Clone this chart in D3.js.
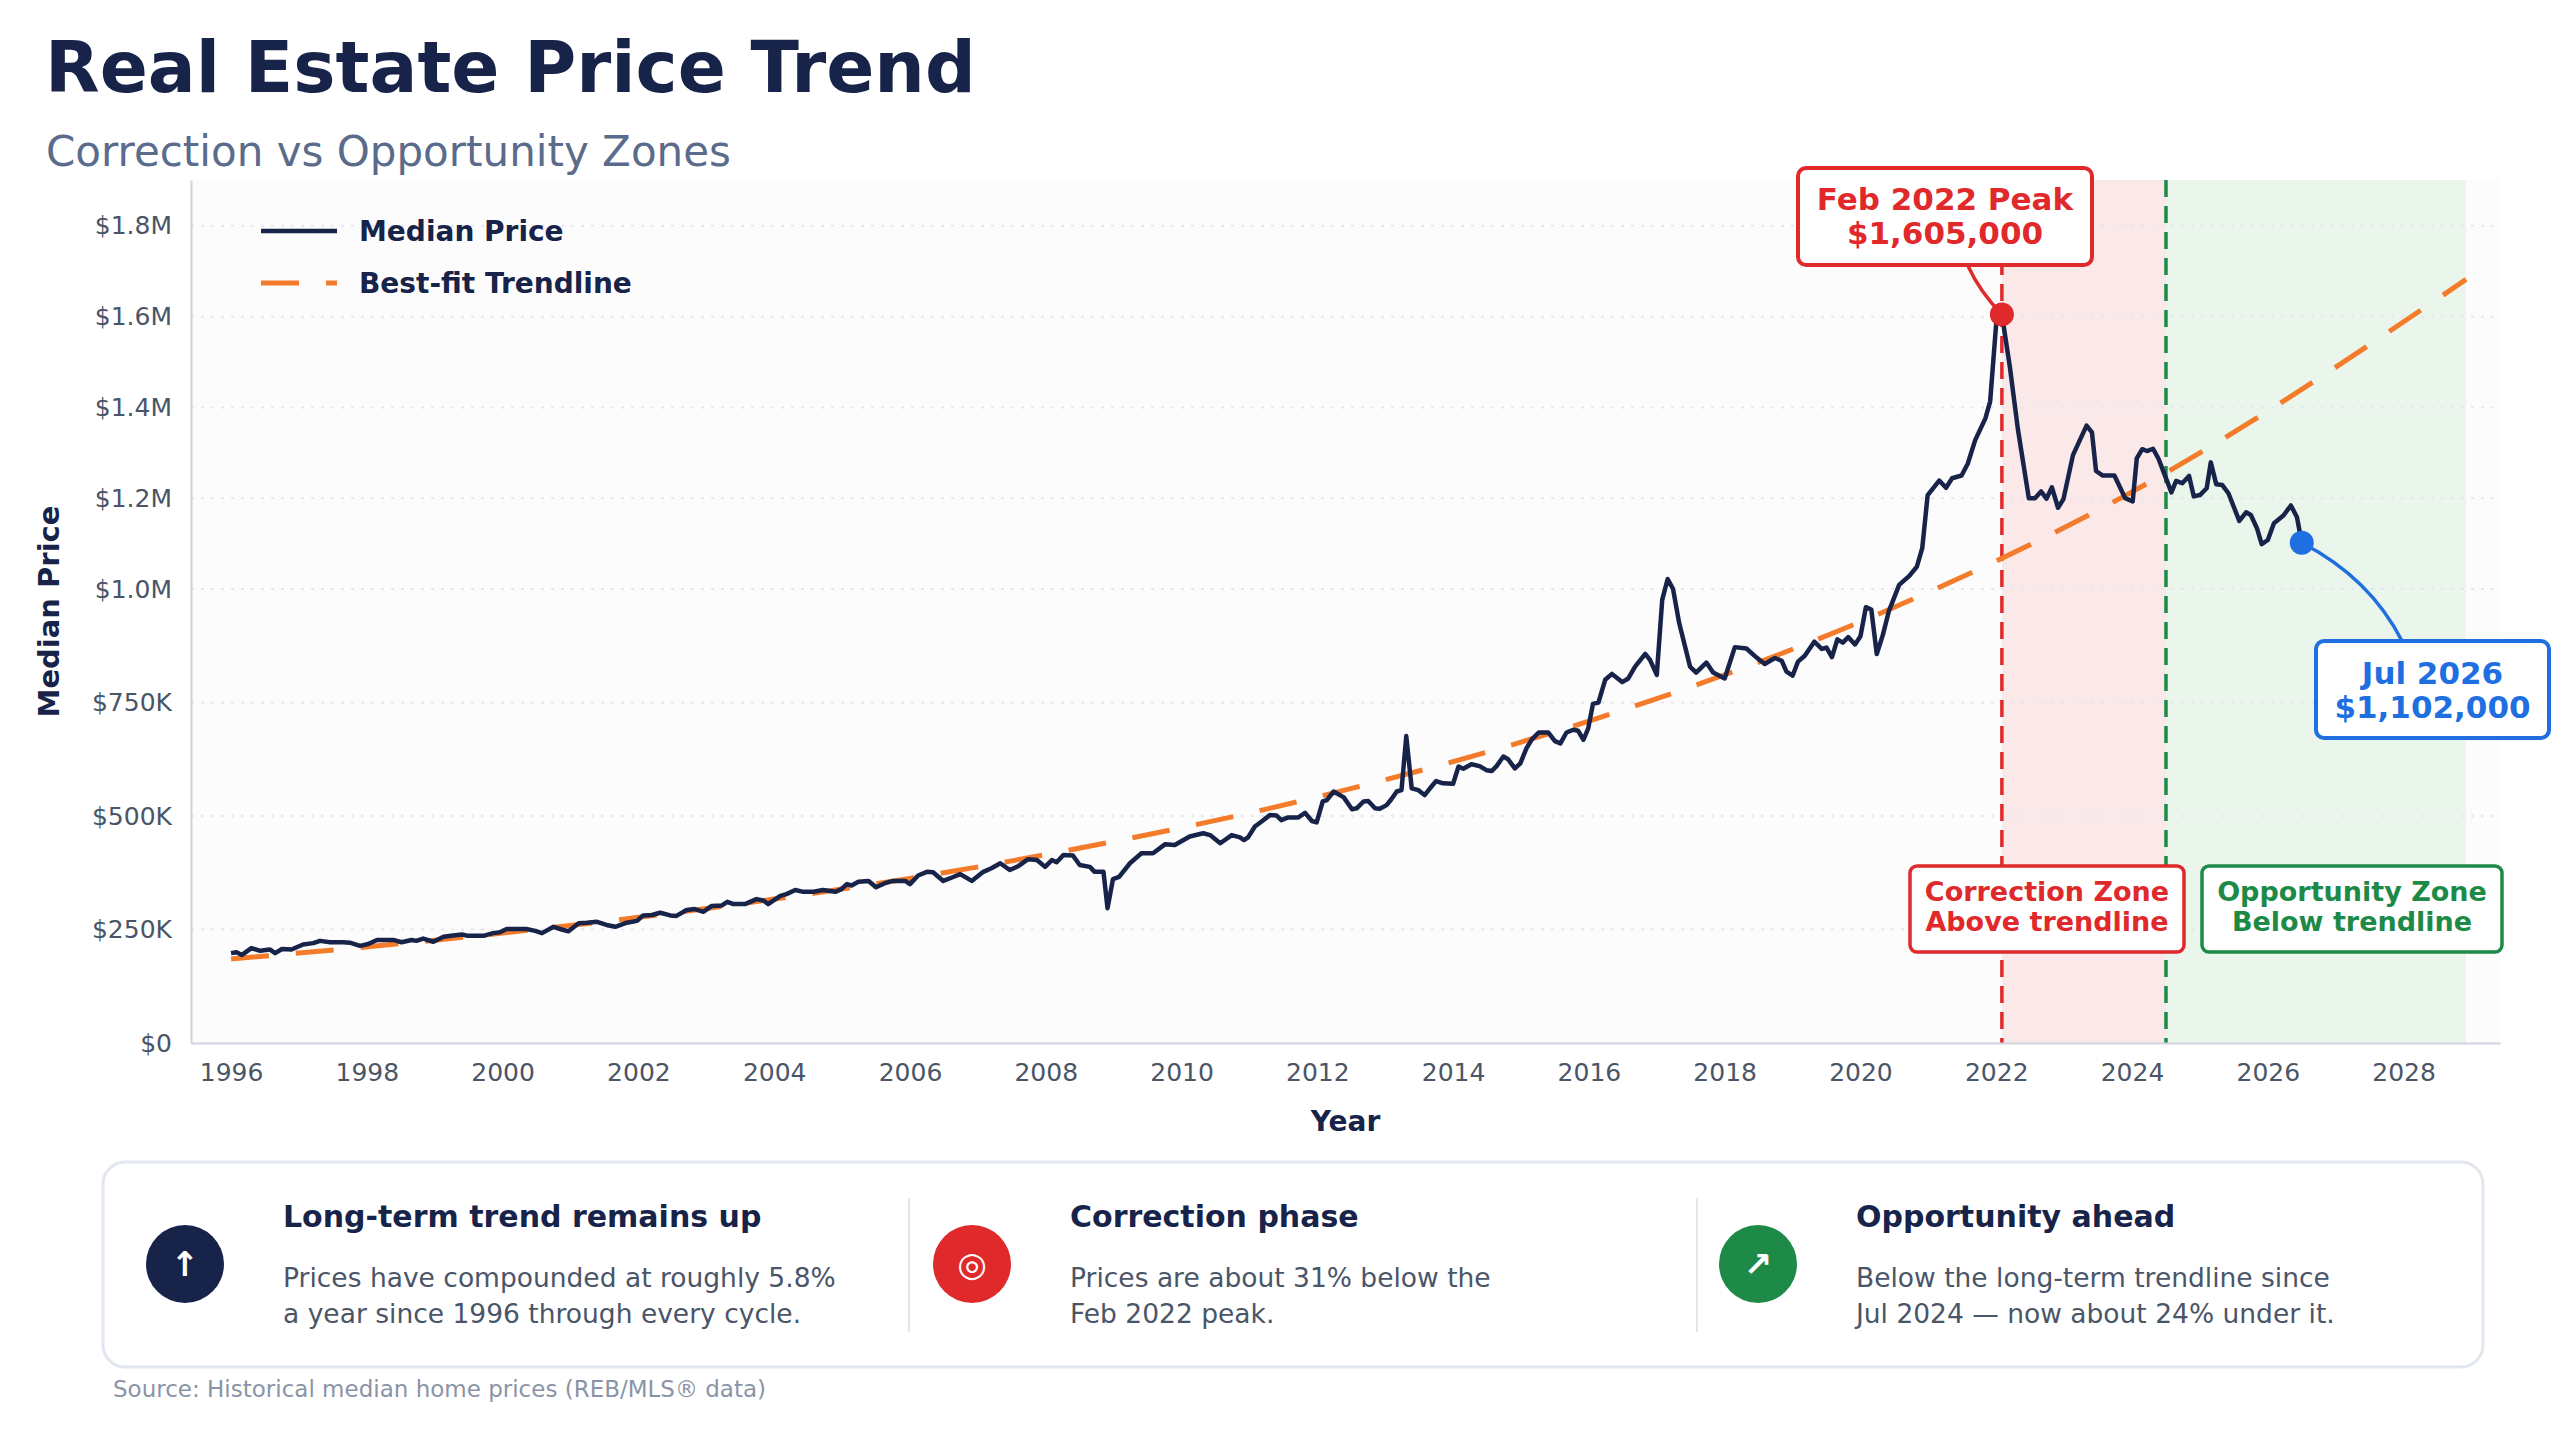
<!DOCTYPE html>
<html>
<head>
<meta charset="utf-8">
<script src="https://cdn.jsdelivr.net/npm/d3@7"></script>
<style>
  body { margin: 0; background: #fff; }
  svg { display: block; font-family: "DejaVu Sans", sans-serif; }
</style>
</head>
<body>
<svg id="chart" width="2568" height="1440"></svg>
<script>
// Median price (decimal year, $K)
const priceYears = [
  1996.00, 1996.08, 1996.16, 1996.30, 1996.43, 1996.57, 1996.65, 1996.75, 1996.89,
  1997.06, 1997.21, 1997.31, 1997.46, 1997.65, 1997.75, 1997.90,
  1998.02, 1998.15, 1998.39, 1998.51, 1998.66, 1998.73, 1998.83, 1998.98,
  1999.13, 1999.27, 1999.40, 1999.49, 1999.72, 1999.86, 1999.96,
  2000.06, 2000.35, 2000.48, 2000.58, 2000.75, 2000.87, 2000.97,
  2001.12, 2001.24, 2001.39, 2001.53, 2001.66, 2001.83, 2001.98,
  2002.07, 2002.20, 2002.32, 2002.47, 2002.56, 2002.71, 2002.83, 2002.96,
  2003.08, 2003.23, 2003.31, 2003.40, 2003.57, 2003.74, 2003.84, 2003.91,
  2004.09, 2004.18, 2004.31, 2004.43, 2004.58, 2004.72, 2004.90, 2004.99,
  2005.07, 2005.14, 2005.24, 2005.39, 2005.50, 2005.63, 2005.75, 2005.93,
  2006.00, 2006.12, 2006.25, 2006.34, 2006.49, 2006.61, 2006.74, 2006.91,
  2007.08, 2007.20, 2007.33, 2007.47, 2007.60, 2007.74, 2007.87, 2007.99,
  2008.09, 2008.16, 2008.26, 2008.40, 2008.50, 2008.65, 2008.72, 2008.85, 2008.91, 2008.99,
  2009.08, 2009.24, 2009.41, 2009.58, 2009.76, 2009.90,
  2010.12, 2010.32, 2010.42, 2010.57, 2010.74, 2010.86, 2010.92, 2010.98,
  2011.08, 2011.18, 2011.30, 2011.40, 2011.47, 2011.57, 2011.72, 2011.82, 2011.92, 2011.99,
  2012.08, 2012.14, 2012.24, 2012.39, 2012.51, 2012.58, 2012.68, 2012.75, 2012.85, 2012.92,
  2013.02, 2013.09, 2013.17, 2013.24, 2013.31, 2013.39, 2013.49, 2013.58, 2013.66, 2013.75, 2013.85,
  2014.00, 2014.08, 2014.15, 2014.27, 2014.39, 2014.49, 2014.57, 2014.64, 2014.74, 2014.81, 2014.91, 2014.99,
  2015.08, 2015.16, 2015.26, 2015.40, 2015.50, 2015.58, 2015.67, 2015.77, 2015.84, 2015.92, 2015.99,
  2016.06, 2016.14, 2016.24, 2016.34, 2016.49, 2016.58, 2016.68, 2016.83, 2016.90,
  2017.00, 2017.08, 2017.16, 2017.24, 2017.33, 2017.49, 2017.58, 2017.73, 2017.83,
  2018.00, 2018.15, 2018.32, 2018.47, 2018.59, 2018.74, 2018.84, 2018.91,
  2019.00, 2019.08, 2019.18, 2019.32, 2019.43, 2019.50, 2019.58, 2019.66, 2019.74, 2019.82, 2019.92,
  2020.00, 2020.08, 2020.16, 2020.24, 2020.33, 2020.42, 2020.57, 2020.72, 2020.83, 2020.91, 2020.99,
  2021.16, 2021.26, 2021.35, 2021.49, 2021.58, 2021.69, 2021.84, 2021.91,
  2022.00, 2022.083, 2022.20, 2022.32, 2022.48, 2022.57, 2022.66, 2022.74, 2022.82, 2022.91, 2022.99,
  2023.13, 2023.33, 2023.41, 2023.47, 2023.57, 2023.74, 2023.90,
  2024.01, 2024.07, 2024.15, 2024.22, 2024.31, 2024.39, 2024.58, 2024.65, 2024.74, 2024.84, 2024.91,
  2025.00, 2025.10, 2025.16, 2025.24, 2025.33, 2025.42, 2025.58, 2025.68, 2025.75, 2025.84, 2025.91,
  2026.00, 2026.09, 2026.23, 2026.34, 2026.43, 2026.50
];
const priceK = [
  198, 200, 194, 209, 203, 206, 198, 207, 206,
  217, 220, 225, 222, 222, 221, 214,
  218, 227, 227, 222, 227, 225, 230, 223,
  234, 237, 239, 236, 236, 242, 244,
  251, 251, 247, 242, 256, 250, 246,
  264, 265, 267, 260, 256, 265, 269,
  281, 282, 287, 281, 280, 293, 295, 289,
  302, 303, 311, 306, 306, 317, 314, 306,
  324, 328, 337, 333, 333, 337, 333, 339,
  350, 347, 355, 357, 343, 352, 357, 357,
  350, 369, 377, 376, 357, 364, 372, 357,
  377, 385, 396, 381, 390, 405, 403, 388,
  403, 398, 414, 413, 392, 388, 377, 377, 297, 361,
  366, 396, 418, 418, 438, 436,
  455, 462, 458, 440, 458, 453, 447, 453,
  477, 488, 502, 501, 491, 497, 497, 507, 489, 486,
  532, 535, 554, 541, 515, 517, 532, 533, 517, 516,
  524, 537, 554, 557, 676, 561, 557, 546, 561, 577, 572,
  571, 609, 604, 614, 610, 601, 599, 610, 631, 625, 605, 616,
  649, 669, 684, 684, 665, 660, 684, 690, 688, 668, 693,
  747, 750, 800, 813, 795, 803, 829, 857, 844,
  811, 976, 1022, 1000, 925, 829, 816, 838, 816,
  803, 872, 869, 849, 835, 848, 842, 818,
  809, 840, 853, 884, 868, 871, 850, 889, 882, 894, 878,
  896, 960, 955, 857, 899, 952, 1009, 1029, 1049, 1090, 1207,
  1239, 1223, 1244, 1250, 1276, 1328, 1376, 1413,
  1586, 1605, 1490, 1351, 1200, 1200, 1215, 1199, 1224, 1179, 1198,
  1295, 1360, 1345, 1260, 1250, 1250, 1200,
  1193, 1288, 1308, 1304, 1309, 1287, 1213, 1238, 1233, 1249, 1204,
  1207, 1222, 1279, 1231, 1229, 1211, 1150, 1169, 1163, 1134, 1099,
  1108, 1145, 1162, 1184, 1158, 1102
];

// Best-fit trendline, read at a few years ($K)
const trendYears = [1996, 2000, 2004, 2008, 2012, 2016, 2020, 2024, 2028.92];
const trendK = [185, 242, 317, 415, 542, 709, 928, 1214, 1682];

const yTickValues = [0, 250, 500, 750, 1000, 1200, 1400, 1600, 1800];
const yTickLabels = ["$0", "$250K", "$500K", "$750K", "$1.0M", "$1.2M", "$1.4M", "$1.6M", "$1.8M"];
const xTickYears = d3.range(1996, 2029, 2);

const peak = { year: 2022.083, value: 1605, label: ["Feb 2022 Peak", "$1,605,000"] };
const latest = { year: 2026.5, value: 1102, label: ["Jul 2026", "$1,102,000"] };
const zones = [
  { from: 2022.083, to: 2024.5, fill: "#fbe8e8", line: "#e0292b", label: ["Correction Zone", "Above trendline"] },
  { from: 2024.5, to: 2028.92, fill: "#eaf5ec", line: "#1e8a48", label: ["Opportunity Zone", "Below trendline"] }
];

const cards = [
  { icon: "↑", color: "#172349", title: "Long-term trend remains up",
    body: ["Prices have compounded at roughly 5.8%", "a year since 1996 through every cycle."] },
  { icon: "◎", color: "#e0292b", title: "Correction phase",
    body: ["Prices are about 31% below the", "Feb 2022 peak."] },
  { icon: "↗", color: "#1e8a48", title: "Opportunity ahead",
    body: ["Below the long-term trendline since", "Jul 2024 — now about 24% under it."] }
];

const NAVY = "#172349";
const ORANGE = "#f47b2a";
const BLUE = "#1f6fe0";
const TICK = "#4a5568";

const PLOT = { left: 191, right: 2500, top: 180, bottom: 1043 };

const svg = d3.select("#chart");

const x = d3.scaleLinear().domain([1995.41, 2029.42]).range([PLOT.left, PLOT.right]);
const y = d3.scaleLinear().domain([0, 1901]).range([PLOT.bottom, PLOT.top]);

// Titles
svg.append("text").attr("x", 45).attr("y", 92)
    .attr("font-size", 71).attr("font-weight", "bold").attr("fill", NAVY)
    .text("Real Estate Price Trend");
svg.append("text").attr("x", 46).attr("y", 166)
    .attr("font-size", 42).attr("fill", "#5b6b8c")
    .text("Correction vs Opportunity Zones");

// Plot background
svg.append("rect")
    .attr("x", PLOT.left).attr("y", PLOT.top)
    .attr("width", PLOT.right - PLOT.left).attr("height", PLOT.bottom - PLOT.top)
    .attr("fill", "#fcfcfc");

// Zones
svg.append("g").selectAll("rect").data(zones).join("rect")
    .attr("x", (d) => x(d.from)).attr("y", PLOT.top)
    .attr("width", (d) => x(d.to) - x(d.from)).attr("height", PLOT.bottom - PLOT.top)
    .attr("fill", (d) => d.fill);

// Grid
svg.append("g").selectAll("line").data(yTickValues.slice(1)).join("line")
    .attr("x1", PLOT.left).attr("x2", PLOT.right)
    .attr("y1", (d) => y(d)).attr("y2", (d) => y(d))
    .attr("stroke", "#e4e7ef").attr("stroke-width", 2).attr("stroke-dasharray", "3,7");

// Zone boundary lines
svg.append("g").selectAll("line").data(zones).join("line")
    .attr("x1", (d) => x(d.from)).attr("x2", (d) => x(d.from))
    .attr("y1", PLOT.top).attr("y2", PLOT.bottom)
    .attr("stroke", (d) => d.line).attr("stroke-width", 3.5).attr("stroke-dasharray", "17,9");

// Axes
const yAxis = d3.axisLeft(y).tickValues(yTickValues)
    .tickFormat((d, i) => yTickLabels[i]).tickSize(0).tickPadding(19);
svg.append("g").attr("transform", `translate(${PLOT.left},0)`).call(yAxis)
    .call((g) => g.select(".domain").attr("stroke", "#cfd4df").attr("stroke-width", 2))
    .call((g) => g.selectAll("text").attr("font-size", 25).attr("fill", TICK)
        .attr("font-family", "DejaVu Sans"));

const xAxis = d3.axisBottom(x).tickValues(xTickYears)
    .tickFormat(d3.format("d")).tickSize(0).tickPadding(20);
svg.append("g").attr("transform", `translate(0,${PLOT.bottom})`).call(xAxis)
    .call((g) => g.select(".domain").attr("stroke", "#cfd4df").attr("stroke-width", 2))
    .call((g) => g.selectAll("text").attr("font-size", 25).attr("fill", TICK)
        .attr("font-family", "DejaVu Sans"));

svg.append("text")
    .attr("transform", `translate(59,${(PLOT.top + PLOT.bottom) / 2}) rotate(-90)`)
    .attr("text-anchor", "middle").attr("font-size", 29).attr("font-weight", "bold").attr("fill", NAVY)
    .text("Median Price");
svg.append("text").attr("x", (PLOT.left + PLOT.right) / 2).attr("y", 1131)
    .attr("text-anchor", "middle").attr("font-size", 28).attr("font-weight", "bold").attr("fill", NAVY)
    .text("Year");

// Trendline
const trendPts = trendYears.map((t, i) => [t, trendK[i]]);
svg.append("path").datum(trendPts)
    .attr("fill", "none").attr("stroke", ORANGE).attr("stroke-width", 5)
    .attr("stroke-dasharray", "38,27")
    .attr("d", d3.line().x((d) => x(d[0])).y((d) => y(d[1])).curve(d3.curveMonotoneX));

// Median price
const pricePts = priceYears.map((t, i) => [t, priceK[i]]);
svg.append("path").datum(pricePts)
    .attr("fill", "none").attr("stroke", NAVY).attr("stroke-width", 4.5)
    .attr("stroke-linejoin", "round")
    .attr("d", d3.line().x((d) => x(d[0])).y((d) => y(d[1])));

// Legend
const legend = svg.append("g").attr("transform", "translate(261,231)");
legend.append("line").attr("x1", 0).attr("x2", 76).attr("y1", 0).attr("y2", 0)
    .attr("stroke", NAVY).attr("stroke-width", 4.5);
legend.append("text").attr("x", 98).attr("y", 10)
    .attr("font-size", 28).attr("font-weight", "bold").attr("fill", NAVY).text("Median Price");
legend.append("line").attr("x1", 0).attr("x2", 76).attr("y1", 52).attr("y2", 52)
    .attr("stroke", ORANGE).attr("stroke-width", 5).attr("stroke-dasharray", "38,27");
legend.append("text").attr("x", 98).attr("y", 62)
    .attr("font-size", 28).attr("font-weight", "bold").attr("fill", NAVY).text("Best-fit Trendline");

// Zone labels
const zoneBoxes = [
  { cx: 2047, x0: 1910, x1: 2184 },
  { cx: 2352, x0: 2202, x1: 2502 }
];
zones.forEach((z, i) => {
    const b = zoneBoxes[i];
    svg.append("rect").attr("x", b.x0).attr("y", 866).attr("width", b.x1 - b.x0).attr("height", 86)
        .attr("rx", 7).attr("fill", "#fff").attr("stroke", z.line).attr("stroke-width", 3.5);
    svg.append("text").attr("text-anchor", "middle").attr("font-size", 27).attr("font-weight", "bold")
        .attr("fill", z.line)
        .selectAll("tspan").data(z.label).join("tspan")
        .attr("x", b.cx).attr("y", (d, j) => 901 + j * 30).text((d) => d);
});

// Callouts
function callout(pt, color, box, from, ctrl) {
    const px = x(pt.year), py = y(pt.value);
    const p = d3.path();
    p.moveTo(from[0], from[1]);
    p.quadraticCurveTo(ctrl[0], ctrl[1], px, py);
    svg.append("path").attr("d", p.toString()).attr("fill", "none")
        .attr("stroke", color).attr("stroke-width", 3.5);
    svg.append("circle").attr("cx", px).attr("cy", py).attr("r", 12).attr("fill", color);
    svg.append("rect").attr("x", box.x).attr("y", box.y).attr("width", box.w).attr("height", box.h)
        .attr("rx", 8).attr("fill", "#fff").attr("stroke", color).attr("stroke-width", 4);
    svg.append("text").attr("text-anchor", "middle").attr("font-size", 31).attr("font-weight", "bold")
        .attr("fill", color)
        .selectAll("tspan").data(pt.label).join("tspan")
        .attr("x", box.x + box.w / 2).attr("y", (d, j) => box.baseline + j * 34).text((d) => d);
}
callout(peak, "#e0292b", { x: 1798, y: 168, w: 294, h: 97, baseline: 210 }, [1968, 266], [1980, 292]);
callout(latest, BLUE, { x: 2316, y: 641, w: 233, h: 97, baseline: 684 }, [2402, 641], [2370, 578]);

// Bottom cards
svg.append("rect").attr("x", 103).attr("y", 1162).attr("width", 2380).attr("height", 205)
    .attr("rx", 22).attr("fill", "#fff").attr("stroke", "#e2e6ef").attr("stroke-width", 3);
const colX = [185, 972, 1758];
[909, 1697].forEach((dx) => {
    svg.append("line").attr("x1", dx).attr("x2", dx).attr("y1", 1198).attr("y2", 1332)
        .attr("stroke", "#e2e6ef").attr("stroke-width", 2);
});
const card = svg.append("g").selectAll("g").data(cards).join("g")
    .attr("transform", (d, i) => `translate(${colX[i]},1264)`);
card.append("circle").attr("r", 39).attr("fill", (d) => d.color);
card.append("text").attr("text-anchor", "middle").attr("y", 12).attr("font-size", 34)
    .attr("font-weight", "bold").attr("fill", "#fff").text((d) => d.icon);
card.append("text").attr("x", 98).attr("y", -37).attr("font-size", 30).attr("font-weight", "bold")
    .attr("fill", NAVY).text((d) => d.title);
card.append("text").attr("font-size", 26.5).attr("fill", TICK)
    .selectAll("tspan").data((d) => d.body).join("tspan")
    .attr("x", 98).attr("y", (d, j) => 23 + j * 36).text((d) => d);

svg.append("text").attr("x", 113).attr("y", 1397).attr("font-size", 23).attr("fill", "#8a94a6")
    .text("Source: Historical median home prices (REB/MLS® data)");
</script>
</body>
</html>
